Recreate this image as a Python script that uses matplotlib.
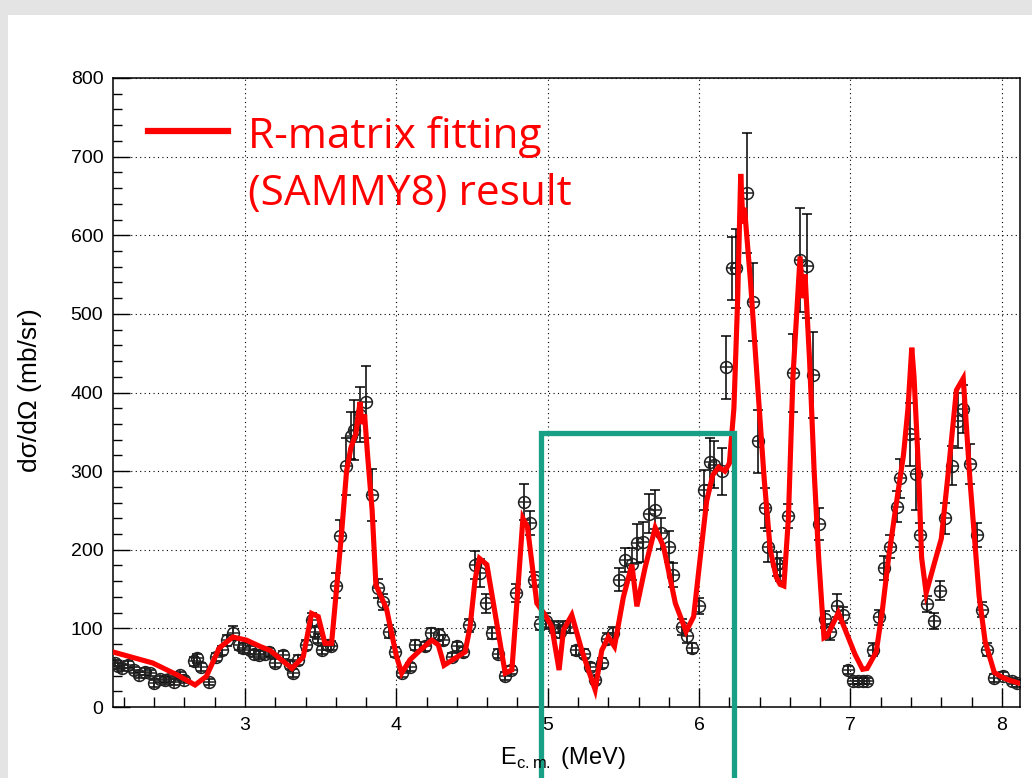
import matplotlib
matplotlib.use('Agg')
import matplotlib.pyplot as plt
from matplotlib.ticker import MultipleLocator
from matplotlib.patches import Rectangle

# measured cross section (E_cm in MeV, mb/sr, error)
energy_exp = [2.14, 2.16, 2.19, 2.23, 2.27, 2.30, 2.34, 2.37, 2.40, 2.44, 2.47, 2.50, 2.53, 2.57, 2.60,
              2.66, 2.68, 2.71, 2.76, 2.81, 2.85, 2.88, 2.92, 2.96, 2.99, 3.03, 3.06, 3.09, 3.13, 3.16,
              3.20, 3.25, 3.30, 3.32, 3.35, 3.40, 3.44, 3.46, 3.48, 3.51, 3.55, 3.57, 3.60, 3.63, 3.67,
              3.70, 3.72, 3.76, 3.80, 3.84, 3.88, 3.91, 3.95, 3.99, 4.04, 4.09, 4.12, 4.19, 4.23, 4.28,
              4.31, 4.37, 4.40, 4.44, 4.48, 4.52, 4.55, 4.59, 4.63, 4.67, 4.72, 4.76, 4.79, 4.84, 4.88,
              4.91, 4.95, 4.99, 5.04, 5.08, 5.10, 5.15, 5.19, 5.24, 5.28, 5.31, 5.36, 5.39, 5.43, 5.47,
              5.51, 5.56, 5.59, 5.63, 5.67, 5.71, 5.75, 5.80, 5.83, 5.89, 5.92, 5.95, 6.00, 6.03, 6.07,
              6.10, 6.15, 6.18, 6.22, 6.245, 6.315, 6.355, 6.39, 6.436, 6.456, 6.514, 6.535, 6.588, 6.62,
              6.667, 6.71, 6.75, 6.79, 6.833, 6.866, 6.91, 6.95, 6.985, 7.02, 7.05, 7.08, 7.11, 7.15,
              7.19, 7.22, 7.26, 7.31, 7.33, 7.39, 7.43, 7.46, 7.505, 7.55, 7.59, 7.626, 7.67, 7.71,
              7.745, 7.79, 7.835, 7.87, 7.90, 7.945, 8.01, 8.07, 8.10]
xs_exp = [56, 52, 50, 54, 47, 41, 45, 43, 30, 36, 34, 36, 32, 41, 34,
          58, 62, 51, 32, 64, 72, 85, 94, 79, 75, 72, 68, 66, 68, 70,
          56, 66, 53, 43, 60, 79, 111, 96, 87, 72, 79, 78, 154, 218, 306,
          345, 352, 372, 388, 270, 151, 134, 96, 70, 43, 51, 79, 77, 94, 92,
          85, 64, 77, 70, 104, 181, 170, 132, 94, 68, 39, 47, 145, 261, 234,
          162, 106, 109, 102, 96, 102, 102, 72, 68, 51, 34, 56, 87, 94, 162,
          187, 182, 208, 210, 246, 251, 221, 204, 168, 102, 90, 75, 128, 276, 312,
          308, 300, 432, 558, 558, 654, 515, 338, 253, 204, 182, 175, 243, 425,
          569, 561, 422, 233, 112, 95, 129, 117, 47, 33, 33, 33, 33, 73,
          114, 177, 204, 255, 291, 347, 296, 219, 131, 109, 148, 240, 307, 364,
          379, 309, 219, 124, 73, 37, 40, 33, 30]
xs_err = [4, 4, 4, 4, 4, 4, 4, 4, 4, 4, 4, 4, 4, 4, 4,
          6, 6, 5, 4, 5, 6, 7, 9, 6, 6, 5, 5, 5, 5, 5,
          5, 5, 5, 5, 6, 6, 9, 7, 6, 5, 6, 6, 16, 20, 36,
          30, 38, 35, 46, 33, 12, 10, 8, 6, 5, 5, 6, 6, 7, 7,
          6, 5, 6, 6, 8, 18, 18, 12, 8, 6, 5, 5, 12, 23, 15,
          10, 8, 10, 8, 8, 8, 8, 6, 6, 5, 5, 6, 7, 8, 15,
          15, 20, 25, 25, 25, 25, 20, 20, 15, 10, 8, 6, 10, 25, 30,
          30, 30, 40, 40, 50, 76, 50, 40, 25, 20, 15, 15, 15, 50,
          66, 66, 55, 20, 10, 10, 15, 10, 5, 4, 4, 4, 4, 8,
          10, 15, 15, 20, 25, 40, 45, 15, 10, 10, 12, 20, 25, 35,
          30, 25, 15, 10, 8, 5, 5, 4, 4]

# R-matrix (SAMMY8) fit curve
energy_fit = [2.128, 2.39, 2.55, 2.67, 2.745, 2.83, 2.92, 3.01, 3.10, 3.165, 3.31, 3.385, 3.44, 3.484,
              3.528, 3.572, 3.60, 3.638, 3.671, 3.70, 3.733, 3.76, 3.772, 3.79, 3.81, 3.84, 3.865, 3.90,
              3.935, 4.00, 4.035, 4.09, 4.156, 4.234, 4.277, 4.315, 4.388, 4.454, 4.487, 4.52, 4.549,
              4.598, 4.719, 4.763, 4.796, 4.836, 4.866, 4.928, 4.983, 5.027, 5.075, 5.104, 5.159, 5.225,
              5.313, 5.357, 5.401, 5.441, 5.50, 5.556, 5.589, 5.644, 5.71, 5.765, 5.843, 5.914, 5.964,
              6.008, 6.05, 6.09, 6.13, 6.17, 6.20, 6.23, 6.255, 6.275, 6.29, 6.30, 6.34, 6.39, 6.43,
              6.47, 6.51, 6.535, 6.56, 6.59, 6.62, 6.667, 6.685, 6.70, 6.73, 6.76, 6.79, 6.825, 6.845,
              6.92, 7.03, 7.08, 7.11, 7.17, 7.21, 7.25, 7.30, 7.35, 7.38, 7.405, 7.42, 7.45, 7.47, 7.50,
              7.55, 7.60, 7.64, 7.70, 7.745, 7.79, 7.85, 7.89, 7.95, 8.00, 8.05, 8.12]
xs_fit = [70, 56, 41, 28, 39, 75, 89, 85, 77, 72, 49, 64, 119, 115,
          81, 81, 140, 221, 300, 330, 348, 388, 360, 372, 320, 250, 155, 140,
          125, 65, 43, 60, 72, 85, 79, 53, 62, 70, 102, 162, 189,
          181, 43, 47, 132, 240, 229, 132, 117, 102, 47, 98, 117, 72,
          22, 72, 89, 77, 140, 181, 128, 178, 228, 204, 132, 96, 115,
          191, 262, 295, 305, 300, 310, 380, 520, 678, 615, 635, 540, 400, 290,
          200, 165, 156, 154, 240, 420, 573, 520, 550, 440, 300, 190, 88, 90,
          120, 67, 48, 49, 70, 122, 187, 255, 320, 380, 457, 420, 300, 190, 145,
          180, 214, 287, 403, 418, 287, 141, 83, 44, 38, 34, 30]

# highlighted window
box_x = [4.954, 6.232]
box_top = 348.6

plt.rcParams['font.family'] = ['Liberation Sans', 'DejaVu Sans']

fig = plt.figure(figsize=(10.32, 7.78), dpi=100)
fig.patch.set_facecolor('white')
# slide background strips
fig.add_artist(Rectangle((0, 1 - 15 / 778), 1, 15 / 778, transform=fig.transFigure,
                         facecolor='#e4e4e4', edgecolor='none', zorder=-5))
fig.add_artist(Rectangle((0, 0), 8 / 1032, 1, transform=fig.transFigure,
                         facecolor='#e4e4e4', edgecolor='none', zorder=-5))

ax = fig.add_axes([113 / 1032, 1 - 707 / 778, (1020 - 113) / 1032, (707 - 78) / 778])
ax.set_xlim(2.128, 8.12)
ax.set_ylim(0, 800)

ax.grid(True, which='major', color='black', linestyle=(0, (1, 3)), linewidth=0.8)
ax.set_axisbelow(True)

ax.errorbar(energy_exp, xs_exp, yerr=xs_err, fmt='none', ecolor='black',
            elinewidth=1.1, capsize=3.5, capthick=1.1, zorder=2)
ax.plot(energy_exp, xs_exp, 'o', ms=8.5, mfc='none', mec='#202020', mew=1.1, zorder=3)
ax.plot(energy_exp, xs_exp, '+', ms=8.5, mec='#202020', mew=1.1, zorder=3)

ax.plot(energy_fit, xs_fit, color='#ff0000', lw=3.7, zorder=4, solid_joinstyle='miter')

ax.plot([box_x[0], box_x[0], box_x[1], box_x[1]], [-120, box_top, box_top, -120],
        color='#17a085', lw=3.8, clip_on=False, zorder=10, solid_joinstyle='miter')

ax.xaxis.set_major_locator(MultipleLocator(1))
ax.xaxis.set_minor_locator(MultipleLocator(0.2))
ax.yaxis.set_major_locator(MultipleLocator(100))
ax.yaxis.set_minor_locator(MultipleLocator(20))
ax.tick_params(axis='x', which='major', direction='in', length=14, width=1, labelsize=14, pad=7)
ax.tick_params(axis='x', which='minor', direction='in', length=7, width=1)
ax.tick_params(axis='y', which='major', direction='in', length=12, width=1, labelsize=14, pad=7)
ax.tick_params(axis='y', which='minor', direction='in', length=6.5, width=1)
for s in ax.spines.values():
    s.set_linewidth(1.1)

fig.text(30 / 1032, 1 - 390 / 778, 'd\u03c3/d\u03a9 (mb/sr)', rotation=90,
         ha='center', va='center', fontsize=19)
fig.text(563 / 1032, 1 - 758 / 778, r'E$_{\mathregular{c.m.}}$ (MeV)',
         ha='center', va='center', fontsize=17)

# legend
ax.plot([0.0386, 0.127], [0.916, 0.916], transform=ax.transAxes, color='#ff0000', lw=4.5)
fig.text(248 / 1032, 1 - 137 / 778, 'R-matrix fitting', color='#ff0000', family='Open Sans',
         fontsize=30.5, ha='left', va='center')
fig.text(248 / 1032, 1 - 194 / 778, '(SAMMY8) result', color='#ff0000', family='Open Sans',
         fontsize=30.5, ha='left', va='center')

fig.savefig('out.png', dpi=100)
